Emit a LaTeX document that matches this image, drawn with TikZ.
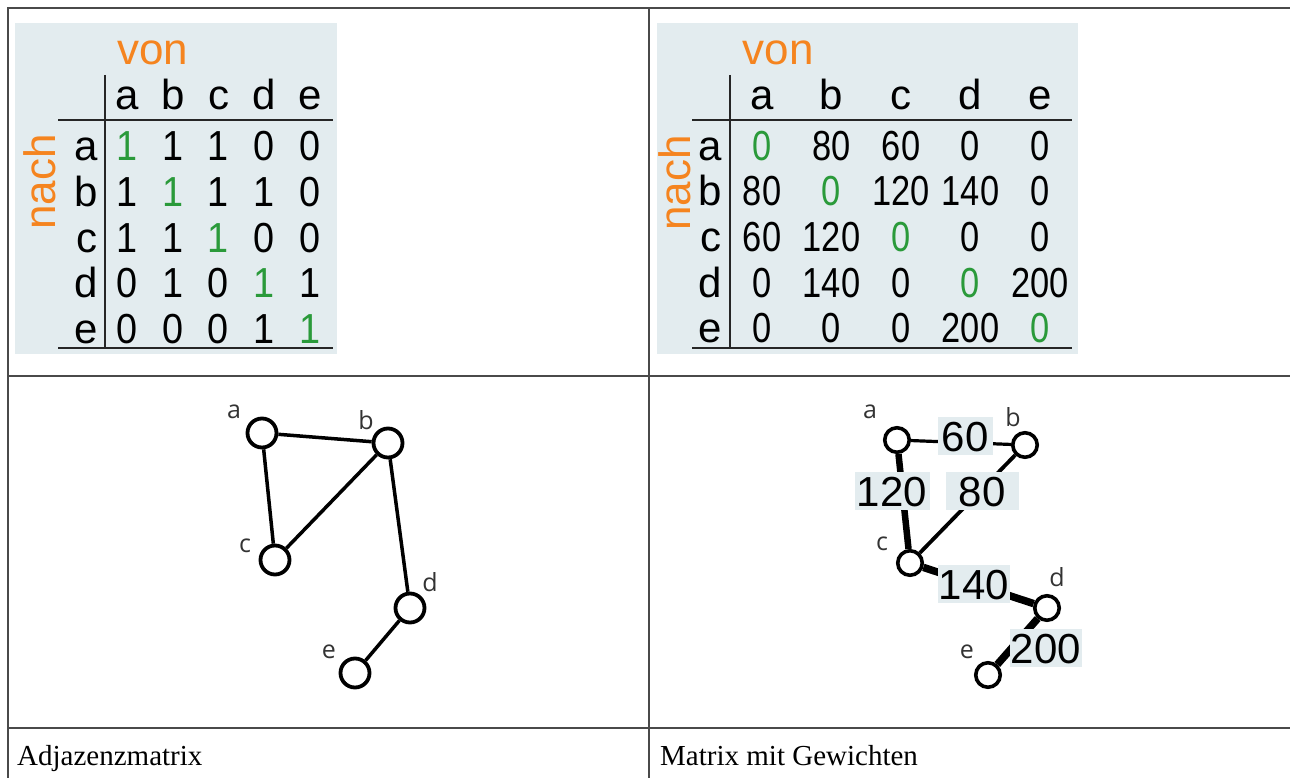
\documentclass[tikz,border=0pt]{standalone}
\usepackage{fontspec}
\setmainfont{Liberation Serif}
\newfontfamily\arialf{Liberation Sans}
\newfontfamily\lblf{Open Sans}
\newcommand{\narrownum}[1]{\scalebox{0.82}[1]{#1}}
\newcommand{\semnarrow}[1]{\scalebox{0.9}[1]{#1}}
\definecolor{bgc}{HTML}{E3ECEF}
\definecolor{orng}{HTML}{F5841F}
\definecolor{grn}{HTML}{2A9A3A}
\definecolor{gridc}{HTML}{4A4A4A}
\definecolor{lblc}{HTML}{333333}
\begin{document}
\begin{tikzpicture}[x=1pt,y=-1pt,
  cell/.style={font=\arialf\fontsize{42}{42}\selectfont, inner sep=0pt, anchor=base},
  rowlbl/.style={font=\arialf\fontsize{42}{42}\selectfont, inner sep=0pt, anchor=base east},
  axislbl/.style={font=\arialf\fontsize{44}{44}\selectfont, text=orng, inner sep=0pt, anchor=base},
  mrule/.style={line width=2.2pt, draw=black!85},
  gridline/.style={line width=1.4pt, draw=gridc},
  vtx/.style={circle, draw=black, line width=3.8pt, fill=white, inner sep=0pt, minimum size=29pt},
  vtxs/.style={circle, draw=black, line width=3.6pt, fill=white, inner sep=0pt, minimum size=24.5pt},
  vlbl/.style={font=\lblf\fontsize{25}{25}\selectfont, text=lblc, inner sep=0pt},
  lnk/.style={line width=3.5pt, draw=black},
  wlbl/.style={font=\arialf\fontsize{42}{42}\selectfont, fill=bgc, text height=30pt, text depth=0pt, inner ysep=4pt, inner xsep=0pt},
  captxt/.style={font=\fontsize{29}{29}\selectfont, inner sep=0pt, anchor=base west}
]
\useasboundingbox (0,0) rectangle (1290,778);
% table grid
\draw[gridline] (8,778) -- (8,8) -- (1290,8);
\draw[gridline] (649,8) -- (649,778);
\draw[gridline] (8,376) -- (1290,376);
\draw[gridline] (8,728) -- (1290,728);

% ---------- left matrix ----------
\fill[bgc] (15,23) rectangle (337,354);
\node[axislbl] (Lvon) at (153,65) {von};
\node[axislbl, rotate=90] (Lnach) at (55,182) {nach};
\draw[mrule] (105,75) -- (105,349);
\draw[mrule] (58,120) -- (333,120);
\draw[mrule] (58,348) -- (333,348);
\foreach \h [count=\j] in {a,b,c,d,e}{
  \node[cell] (LH\j) at ({127+(\j-1)*45.75},110) {\h};
  \node[rowlbl] (LR\j) at (98,{161+(\j-1)*45.5}) {\h};
}
\foreach \vals [count=\i] in {{1,1,1,0,0},{1,1,1,1,0},{1,1,1,0,0},{0,1,0,1,1},{0,0,0,1,1}}{
  \foreach \v [count=\j] in \vals {
    \ifnum\i=\j \def\cc{grn}\else\def\cc{black}\fi
    \node[cell, text=\cc] (L\i\j) at ({127+(\j-1)*45.75},{161+(\i-1)*45.5}) {\semnarrow{\v}};
  }
}

% ---------- right matrix ----------
\fill[bgc] (657,23) rectangle (1078,354);
\node[axislbl] (Rvon) at (778,65) {von};
\node[axislbl, rotate=90] (Rnach) at (690,183) {nach};
\draw[mrule] (730,75) -- (730,349);
\draw[mrule] (692,120) -- (1072,120);
\draw[mrule] (692,348) -- (1072,348);
\foreach \h [count=\j] in {a,b,c,d,e}{
  \node[cell] (RH\j) at ({762+(\j-1)*69.5},110) {\h};
  \node[rowlbl] (RR\j) at (722,{160.5+(\j-1)*45.5}) {\h};
}
\foreach \vals [count=\i] in {{0,80,60,0,0},{80,0,120,140,0},{60,120,0,0,0},{0,140,0,0,200},{0,0,0,200,0}}{
  \foreach \v [count=\j] in \vals {
    \ifnum\i=\j \def\cc{grn}\else\def\cc{black}\fi
    \node[cell, text=\cc] (R\i\j) at ({762+(\j-1)*69.5},{160.5+(\i-1)*45.5}) {\narrownum{\v}};
  }
}

% ---------- left graph ----------
\node[vtx] (ga) at (262,433) {};
\node[vtx] (gb) at (388,443) {};
\node[vtx] (gc) at (275,560) {};
\node[vtx] (gd) at (410,608) {};
\node[vtx] (ge) at (355,673) {};
\draw[lnk] (ga) -- (gb);
\draw[lnk] (ga) -- (gc);
\draw[lnk] (gb) -- (gc);
\draw[lnk] (gb) -- (gd);
\draw[lnk] (gd) -- (ge);
\node[vlbl] (gla) at (234,412) {a};
\node[vlbl] (glb) at (366,420) {b};
\node[vlbl] (glc) at (245,546) {c};
\node[vlbl] (gld) at (430,582) {d};
\node[vlbl] (gle) at (329,652) {e};

% ---------- right graph ----------
\node[vtxs] (wa) at (897,440) {};
\node[vtxs] (wb) at (1025,445) {};
\node[vtxs] (wc) at (910,563) {};
\node[vtxs] (wd) at (1047,608) {};
\node[vtxs] (we) at (988,675) {};
\draw[lnk, line width=3.2pt] (wa) -- (wb);
\draw[lnk, line width=6.5pt] (wa) -- (wc);
\draw[lnk, line width=3.8pt] (wb) -- (wc);
\draw[lnk, line width=7.5pt] (wc) -- (wd);
\draw[lnk, line width=7.5pt] (wd) -- (we);
\node[wlbl, minimum width=55pt] (w60) at (965,436) {60};
\node[wlbl, minimum width=75pt] (w120) at (892,491) {120};
\node[wlbl, minimum width=73pt] (w80) at (982,491) {80};
\node[wlbl, minimum width=72pt] (w140) at (974,584) {140};
\node[wlbl, minimum width=72pt] (w200) at (1046,648) {200};
\node[vlbl] (wla) at (870,412) {a};
\node[vlbl] (wlb) at (1013,417) {b};
\node[vlbl] (wlc) at (882,544) {c};
\node[vlbl] (wld) at (1057,577) {d};
\node[vlbl] (wle) at (967,652) {e};

% ---------- captions ----------
\node[captxt] (cap1) at (17,765) {Adjazenzmatrix};
\node[captxt] (cap2) at (660,765) {Matrix mit Gewichten};
\end{tikzpicture}
\end{document}
